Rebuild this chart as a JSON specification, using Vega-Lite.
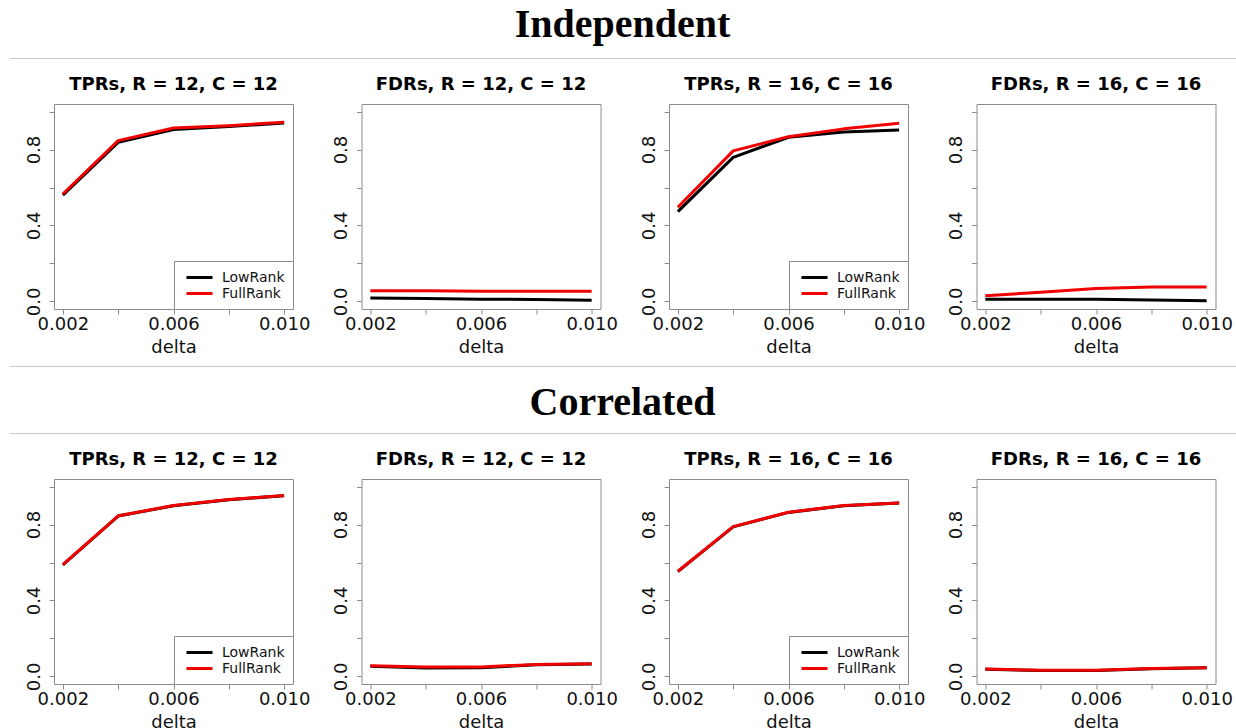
{
  "$schema": "https://vega.github.io/schema/vega-lite/v6.json",
  "padding": {"left": 9, "top": 5, "right": 0, "bottom": 0},
  "background": "white",
  "datasets": {
    "all": [
      {"s": "Independent", "m": "TPR", "r": 12, "method": "LowRank", "delta": 0.002, "value": 0.560},
      {"s": "Independent", "m": "TPR", "r": 12, "method": "LowRank", "delta": 0.004, "value": 0.838},
      {"s": "Independent", "m": "TPR", "r": 12, "method": "LowRank", "delta": 0.006, "value": 0.905},
      {"s": "Independent", "m": "TPR", "r": 12, "method": "LowRank", "delta": 0.008, "value": 0.921},
      {"s": "Independent", "m": "TPR", "r": 12, "method": "LowRank", "delta": 0.010, "value": 0.940},
      {"s": "Independent", "m": "TPR", "r": 12, "method": "FullRank", "delta": 0.002, "value": 0.566},
      {"s": "Independent", "m": "TPR", "r": 12, "method": "FullRank", "delta": 0.004, "value": 0.847},
      {"s": "Independent", "m": "TPR", "r": 12, "method": "FullRank", "delta": 0.006, "value": 0.914},
      {"s": "Independent", "m": "TPR", "r": 12, "method": "FullRank", "delta": 0.008, "value": 0.926},
      {"s": "Independent", "m": "TPR", "r": 12, "method": "FullRank", "delta": 0.010, "value": 0.944},
      {"s": "Independent", "m": "FDR", "r": 12, "method": "LowRank", "delta": 0.002, "value": 0.018},
      {"s": "Independent", "m": "FDR", "r": 12, "method": "LowRank", "delta": 0.004, "value": 0.015},
      {"s": "Independent", "m": "FDR", "r": 12, "method": "LowRank", "delta": 0.006, "value": 0.012},
      {"s": "Independent", "m": "FDR", "r": 12, "method": "LowRank", "delta": 0.008, "value": 0.010},
      {"s": "Independent", "m": "FDR", "r": 12, "method": "LowRank", "delta": 0.010, "value": 0.006},
      {"s": "Independent", "m": "FDR", "r": 12, "method": "FullRank", "delta": 0.002, "value": 0.056},
      {"s": "Independent", "m": "FDR", "r": 12, "method": "FullRank", "delta": 0.004, "value": 0.056},
      {"s": "Independent", "m": "FDR", "r": 12, "method": "FullRank", "delta": 0.006, "value": 0.054},
      {"s": "Independent", "m": "FDR", "r": 12, "method": "FullRank", "delta": 0.008, "value": 0.054},
      {"s": "Independent", "m": "FDR", "r": 12, "method": "FullRank", "delta": 0.010, "value": 0.053},
      {"s": "Independent", "m": "TPR", "r": 16, "method": "LowRank", "delta": 0.002, "value": 0.473},
      {"s": "Independent", "m": "TPR", "r": 16, "method": "LowRank", "delta": 0.004, "value": 0.759},
      {"s": "Independent", "m": "TPR", "r": 16, "method": "LowRank", "delta": 0.006, "value": 0.865},
      {"s": "Independent", "m": "TPR", "r": 16, "method": "LowRank", "delta": 0.008, "value": 0.893},
      {"s": "Independent", "m": "TPR", "r": 16, "method": "LowRank", "delta": 0.010, "value": 0.903},
      {"s": "Independent", "m": "TPR", "r": 16, "method": "FullRank", "delta": 0.002, "value": 0.496},
      {"s": "Independent", "m": "TPR", "r": 16, "method": "FullRank", "delta": 0.004, "value": 0.793},
      {"s": "Independent", "m": "TPR", "r": 16, "method": "FullRank", "delta": 0.006, "value": 0.868},
      {"s": "Independent", "m": "TPR", "r": 16, "method": "FullRank", "delta": 0.008, "value": 0.909},
      {"s": "Independent", "m": "TPR", "r": 16, "method": "FullRank", "delta": 0.010, "value": 0.938},
      {"s": "Independent", "m": "FDR", "r": 16, "method": "LowRank", "delta": 0.002, "value": 0.011},
      {"s": "Independent", "m": "FDR", "r": 16, "method": "LowRank", "delta": 0.004, "value": 0.011},
      {"s": "Independent", "m": "FDR", "r": 16, "method": "LowRank", "delta": 0.006, "value": 0.011},
      {"s": "Independent", "m": "FDR", "r": 16, "method": "LowRank", "delta": 0.008, "value": 0.008},
      {"s": "Independent", "m": "FDR", "r": 16, "method": "LowRank", "delta": 0.010, "value": 0.004},
      {"s": "Independent", "m": "FDR", "r": 16, "method": "FullRank", "delta": 0.002, "value": 0.030},
      {"s": "Independent", "m": "FDR", "r": 16, "method": "FullRank", "delta": 0.004, "value": 0.048},
      {"s": "Independent", "m": "FDR", "r": 16, "method": "FullRank", "delta": 0.006, "value": 0.068},
      {"s": "Independent", "m": "FDR", "r": 16, "method": "FullRank", "delta": 0.008, "value": 0.076},
      {"s": "Independent", "m": "FDR", "r": 16, "method": "FullRank", "delta": 0.010, "value": 0.076},
      {"s": "Correlated", "m": "TPR", "r": 12, "method": "LowRank", "delta": 0.002, "value": 0.588},
      {"s": "Correlated", "m": "TPR", "r": 12, "method": "LowRank", "delta": 0.004, "value": 0.845},
      {"s": "Correlated", "m": "TPR", "r": 12, "method": "LowRank", "delta": 0.006, "value": 0.899},
      {"s": "Correlated", "m": "TPR", "r": 12, "method": "LowRank", "delta": 0.008, "value": 0.931},
      {"s": "Correlated", "m": "TPR", "r": 12, "method": "LowRank", "delta": 0.010, "value": 0.952},
      {"s": "Correlated", "m": "TPR", "r": 12, "method": "FullRank", "delta": 0.002, "value": 0.589},
      {"s": "Correlated", "m": "TPR", "r": 12, "method": "FullRank", "delta": 0.004, "value": 0.846},
      {"s": "Correlated", "m": "TPR", "r": 12, "method": "FullRank", "delta": 0.006, "value": 0.900},
      {"s": "Correlated", "m": "TPR", "r": 12, "method": "FullRank", "delta": 0.008, "value": 0.932},
      {"s": "Correlated", "m": "TPR", "r": 12, "method": "FullRank", "delta": 0.010, "value": 0.953},
      {"s": "Correlated", "m": "FDR", "r": 12, "method": "LowRank", "delta": 0.002, "value": 0.053},
      {"s": "Correlated", "m": "FDR", "r": 12, "method": "LowRank", "delta": 0.004, "value": 0.044},
      {"s": "Correlated", "m": "FDR", "r": 12, "method": "LowRank", "delta": 0.006, "value": 0.046},
      {"s": "Correlated", "m": "FDR", "r": 12, "method": "LowRank", "delta": 0.008, "value": 0.061},
      {"s": "Correlated", "m": "FDR", "r": 12, "method": "LowRank", "delta": 0.010, "value": 0.065},
      {"s": "Correlated", "m": "FDR", "r": 12, "method": "FullRank", "delta": 0.002, "value": 0.056},
      {"s": "Correlated", "m": "FDR", "r": 12, "method": "FullRank", "delta": 0.004, "value": 0.049},
      {"s": "Correlated", "m": "FDR", "r": 12, "method": "FullRank", "delta": 0.006, "value": 0.050},
      {"s": "Correlated", "m": "FDR", "r": 12, "method": "FullRank", "delta": 0.008, "value": 0.063},
      {"s": "Correlated", "m": "FDR", "r": 12, "method": "FullRank", "delta": 0.010, "value": 0.067},
      {"s": "Correlated", "m": "TPR", "r": 16, "method": "LowRank", "delta": 0.002, "value": 0.552},
      {"s": "Correlated", "m": "TPR", "r": 16, "method": "LowRank", "delta": 0.004, "value": 0.788},
      {"s": "Correlated", "m": "TPR", "r": 16, "method": "LowRank", "delta": 0.006, "value": 0.864},
      {"s": "Correlated", "m": "TPR", "r": 16, "method": "LowRank", "delta": 0.008, "value": 0.899},
      {"s": "Correlated", "m": "TPR", "r": 16, "method": "LowRank", "delta": 0.010, "value": 0.913},
      {"s": "Correlated", "m": "TPR", "r": 16, "method": "FullRank", "delta": 0.002, "value": 0.554},
      {"s": "Correlated", "m": "TPR", "r": 16, "method": "FullRank", "delta": 0.004, "value": 0.789},
      {"s": "Correlated", "m": "TPR", "r": 16, "method": "FullRank", "delta": 0.006, "value": 0.865},
      {"s": "Correlated", "m": "TPR", "r": 16, "method": "FullRank", "delta": 0.008, "value": 0.900},
      {"s": "Correlated", "m": "TPR", "r": 16, "method": "FullRank", "delta": 0.010, "value": 0.914},
      {"s": "Correlated", "m": "FDR", "r": 16, "method": "LowRank", "delta": 0.002, "value": 0.038},
      {"s": "Correlated", "m": "FDR", "r": 16, "method": "LowRank", "delta": 0.004, "value": 0.031},
      {"s": "Correlated", "m": "FDR", "r": 16, "method": "LowRank", "delta": 0.006, "value": 0.031},
      {"s": "Correlated", "m": "FDR", "r": 16, "method": "LowRank", "delta": 0.008, "value": 0.040},
      {"s": "Correlated", "m": "FDR", "r": 16, "method": "LowRank", "delta": 0.010, "value": 0.045},
      {"s": "Correlated", "m": "FDR", "r": 16, "method": "FullRank", "delta": 0.002, "value": 0.039},
      {"s": "Correlated", "m": "FDR", "r": 16, "method": "FullRank", "delta": 0.004, "value": 0.032},
      {"s": "Correlated", "m": "FDR", "r": 16, "method": "FullRank", "delta": 0.006, "value": 0.033},
      {"s": "Correlated", "m": "FDR", "r": 16, "method": "FullRank", "delta": 0.008, "value": 0.042},
      {"s": "Correlated", "m": "FDR", "r": 16, "method": "FullRank", "delta": 0.010, "value": 0.046}
    ]
  },
  "spacing": 8,
  "resolve": {"scale": {"color": "independent"}, "legend": {"color": "independent"}},
  "vconcat": [
    {
      "width": 1227, "height": 1,
      "view": {"stroke": null},
      "title": {"text": "Independent", "font": "Liberation Serif", "fontSize": 40, "fontWeight": "bold", "offset": 12},
      "data": {"values": []},
      "mark": "point",
      "encoding": {"x": {"field": "v", "type": "quantitative", "scale": {"domain": [0, 1]}, "axis": {"domain": true, "domainColor": "#c8c8c8", "domainWidth": 1, "ticks": false, "labels": false, "title": null, "minExtent": 9, "maxExtent": 9}}}
    },
    {
      "bounds": "flush",
      "spacing": 0,
      "resolve": {"scale": {"color": "independent"}, "legend": {"color": "independent"}},
      "hconcat": [
        {"width": 45, "height": 205, "view": {"stroke": null}, "data": {"values": []}, "mark": "point"},
        {
          "bounds": "flush",
          "spacing": 68.5,
          "resolve": {"scale": {"color": "independent"}, "legend": {"color": "independent"}},
          "hconcat": [
            {
              "width": 239, "height": 205,
              "title": "TPRs, R = 12, C = 12",
              "data": {"name": "all"},
              "transform": [{"filter": "datum.s === 'Independent' && datum.m === 'TPR' && datum.r === 12"}],
              "mark": {"type": "line", "strokeWidth": 3, "strokeJoin": "round"},
              "encoding": {
                "x": {"field": "delta", "type": "quantitative", "scale": {"domain": [0.00168, 0.01032], "nice": false, "zero": false}, "axis": {"values": [0.002, 0.004, 0.006, 0.008, 0.01], "title": "delta"}},
                "y": {"field": "value", "type": "quantitative", "scale": {"domain": [-0.04, 1.04], "nice": false, "zero": false}, "axis": {"values": [0, 0.2, 0.4, 0.6, 0.8, 1], "title": null}},
                "color": {"field": "method", "type": "nominal", "scale": {"domain": ["LowRank", "FullRank"], "range": ["#000000", "#f00000"]}, "legend": {"orient": "bottom-right", "offset": 0, "title": null}}
              }
            },
            {
              "width": 239, "height": 205,
              "title": "FDRs, R = 12, C = 12",
              "data": {"name": "all"},
              "transform": [{"filter": "datum.s === 'Independent' && datum.m === 'FDR' && datum.r === 12"}],
              "mark": {"type": "line", "strokeWidth": 3, "strokeJoin": "round"},
              "encoding": {
                "x": {"field": "delta", "type": "quantitative", "scale": {"domain": [0.00168, 0.01032], "nice": false, "zero": false}, "axis": {"values": [0.002, 0.004, 0.006, 0.008, 0.01], "title": "delta"}},
                "y": {"field": "value", "type": "quantitative", "scale": {"domain": [-0.04, 1.04], "nice": false, "zero": false}, "axis": {"values": [0, 0.2, 0.4, 0.6, 0.8, 1], "title": null}},
                "color": {"field": "method", "type": "nominal", "scale": {"domain": ["LowRank", "FullRank"], "range": ["#000000", "#f00000"]}, "legend": null}
              }
            },
            {
              "width": 239, "height": 205,
              "title": "TPRs, R = 16, C = 16",
              "data": {"name": "all"},
              "transform": [{"filter": "datum.s === 'Independent' && datum.m === 'TPR' && datum.r === 16"}],
              "mark": {"type": "line", "strokeWidth": 3, "strokeJoin": "round"},
              "encoding": {
                "x": {"field": "delta", "type": "quantitative", "scale": {"domain": [0.00168, 0.01032], "nice": false, "zero": false}, "axis": {"values": [0.002, 0.004, 0.006, 0.008, 0.01], "title": "delta"}},
                "y": {"field": "value", "type": "quantitative", "scale": {"domain": [-0.04, 1.04], "nice": false, "zero": false}, "axis": {"values": [0, 0.2, 0.4, 0.6, 0.8, 1], "title": null}},
                "color": {"field": "method", "type": "nominal", "scale": {"domain": ["LowRank", "FullRank"], "range": ["#000000", "#f00000"]}, "legend": {"orient": "bottom-right", "offset": 0, "title": null}}
              }
            },
            {
              "width": 239, "height": 205,
              "title": "FDRs, R = 16, C = 16",
              "data": {"name": "all"},
              "transform": [{"filter": "datum.s === 'Independent' && datum.m === 'FDR' && datum.r === 16"}],
              "mark": {"type": "line", "strokeWidth": 3, "strokeJoin": "round"},
              "encoding": {
                "x": {"field": "delta", "type": "quantitative", "scale": {"domain": [0.00168, 0.01032], "nice": false, "zero": false}, "axis": {"values": [0.002, 0.004, 0.006, 0.008, 0.01], "title": "delta"}},
                "y": {"field": "value", "type": "quantitative", "scale": {"domain": [-0.04, 1.04], "nice": false, "zero": false}, "axis": {"values": [0, 0.2, 0.4, 0.6, 0.8, 1], "title": null}},
                "color": {"field": "method", "type": "nominal", "scale": {"domain": ["LowRank", "FullRank"], "range": ["#000000", "#f00000"]}, "legend": null}
              }
            }
          ]
        }
      ]
    },
    {
      "width": 1227, "height": 1,
      "view": {"stroke": null},
      "data": {"values": []},
      "mark": "point",
      "encoding": {"x": {"field": "v", "type": "quantitative", "scale": {"domain": [0, 1]}, "axis": {"domain": true, "domainColor": "#c8c8c8", "domainWidth": 1, "ticks": false, "labels": false, "title": null, "minExtent": 9, "maxExtent": 9}}}
    },
    {
      "width": 1227, "height": 1,
      "view": {"stroke": null},
      "title": {"text": "Correlated", "font": "Liberation Serif", "fontSize": 40, "fontWeight": "bold", "offset": 9},
      "data": {"values": []},
      "mark": "point",
      "encoding": {"x": {"field": "v", "type": "quantitative", "scale": {"domain": [0, 1]}, "axis": {"domain": true, "domainColor": "#c8c8c8", "domainWidth": 1, "ticks": false, "labels": false, "title": null, "minExtent": 9, "maxExtent": 9}}}
    },
    {
      "bounds": "flush",
      "spacing": 0,
      "resolve": {"scale": {"color": "independent"}, "legend": {"color": "independent"}},
      "hconcat": [
        {"width": 45, "height": 205, "view": {"stroke": null}, "data": {"values": []}, "mark": "point"},
        {
          "bounds": "flush",
          "spacing": 68.5,
          "resolve": {"scale": {"color": "independent"}, "legend": {"color": "independent"}},
          "hconcat": [
            {
              "width": 239, "height": 205,
              "title": "TPRs, R = 12, C = 12",
              "data": {"name": "all"},
              "transform": [{"filter": "datum.s === 'Correlated' && datum.m === 'TPR' && datum.r === 12"}],
              "mark": {"type": "line", "strokeWidth": 3, "strokeJoin": "round"},
              "encoding": {
                "x": {"field": "delta", "type": "quantitative", "scale": {"domain": [0.00168, 0.01032], "nice": false, "zero": false}, "axis": {"values": [0.002, 0.004, 0.006, 0.008, 0.01], "title": "delta"}},
                "y": {"field": "value", "type": "quantitative", "scale": {"domain": [-0.04, 1.04], "nice": false, "zero": false}, "axis": {"values": [0, 0.2, 0.4, 0.6, 0.8, 1], "title": null}},
                "color": {"field": "method", "type": "nominal", "scale": {"domain": ["LowRank", "FullRank"], "range": ["#000000", "#f00000"]}, "legend": {"orient": "bottom-right", "offset": 0, "title": null}}
              }
            },
            {
              "width": 239, "height": 205,
              "title": "FDRs, R = 12, C = 12",
              "data": {"name": "all"},
              "transform": [{"filter": "datum.s === 'Correlated' && datum.m === 'FDR' && datum.r === 12"}],
              "mark": {"type": "line", "strokeWidth": 3, "strokeJoin": "round"},
              "encoding": {
                "x": {"field": "delta", "type": "quantitative", "scale": {"domain": [0.00168, 0.01032], "nice": false, "zero": false}, "axis": {"values": [0.002, 0.004, 0.006, 0.008, 0.01], "title": "delta"}},
                "y": {"field": "value", "type": "quantitative", "scale": {"domain": [-0.04, 1.04], "nice": false, "zero": false}, "axis": {"values": [0, 0.2, 0.4, 0.6, 0.8, 1], "title": null}},
                "color": {"field": "method", "type": "nominal", "scale": {"domain": ["LowRank", "FullRank"], "range": ["#000000", "#f00000"]}, "legend": null}
              }
            },
            {
              "width": 239, "height": 205,
              "title": "TPRs, R = 16, C = 16",
              "data": {"name": "all"},
              "transform": [{"filter": "datum.s === 'Correlated' && datum.m === 'TPR' && datum.r === 16"}],
              "mark": {"type": "line", "strokeWidth": 3, "strokeJoin": "round"},
              "encoding": {
                "x": {"field": "delta", "type": "quantitative", "scale": {"domain": [0.00168, 0.01032], "nice": false, "zero": false}, "axis": {"values": [0.002, 0.004, 0.006, 0.008, 0.01], "title": "delta"}},
                "y": {"field": "value", "type": "quantitative", "scale": {"domain": [-0.04, 1.04], "nice": false, "zero": false}, "axis": {"values": [0, 0.2, 0.4, 0.6, 0.8, 1], "title": null}},
                "color": {"field": "method", "type": "nominal", "scale": {"domain": ["LowRank", "FullRank"], "range": ["#000000", "#f00000"]}, "legend": {"orient": "bottom-right", "offset": 0, "title": null}}
              }
            },
            {
              "width": 239, "height": 205,
              "title": "FDRs, R = 16, C = 16",
              "data": {"name": "all"},
              "transform": [{"filter": "datum.s === 'Correlated' && datum.m === 'FDR' && datum.r === 16"}],
              "mark": {"type": "line", "strokeWidth": 3, "strokeJoin": "round"},
              "encoding": {
                "x": {"field": "delta", "type": "quantitative", "scale": {"domain": [0.00168, 0.01032], "nice": false, "zero": false}, "axis": {"values": [0.002, 0.004, 0.006, 0.008, 0.01], "title": "delta"}},
                "y": {"field": "value", "type": "quantitative", "scale": {"domain": [-0.04, 1.04], "nice": false, "zero": false}, "axis": {"values": [0, 0.2, 0.4, 0.6, 0.8, 1], "title": null}},
                "color": {"field": "method", "type": "nominal", "scale": {"domain": ["LowRank", "FullRank"], "range": ["#000000", "#f00000"]}, "legend": null}
              }
            }
          ]
        }
      ]
    }
  ],
  "config": {
    "view": {"stroke": "#8c8c8c", "strokeWidth": 1},
    "axis": {
      "domain": false, "grid": false,
      "tickColor": "#8c8c8c", "tickSize": 5, "tickWidth": 1,
      "labelFont": "DejaVu Sans", "labelFontSize": 18, "labelColor": "#111111",
      "titleFont": "DejaVu Sans", "titleFontSize": 18, "titleFontWeight": "normal", "titleColor": "#111111",
      "labelOverlap": false, "labelFlush": false, "labelBound": false
    },
    "axisX": {
      "labelAngle": 0, "labelPadding": 1, "titlePadding": 5,
      "labelExpr": "(abs(datum.value - 0.004) < 1e-7 || abs(datum.value - 0.008) < 1e-7) ? '' : format(datum.value, '.3f')"
    },
    "axisY": {
      "labelAngle": 270, "labelAlign": "center", "labelBaseline": "bottom", "labelPadding": 6,
      "labelExpr": "(abs(datum.value - 0.2) < 1e-7 || abs(datum.value - 0.6) < 1e-7 || abs(datum.value - 1) < 1e-7) ? '' : format(datum.value, '.1f')"
    },
    "title": {"font": "DejaVu Sans", "fontSize": 18, "fontWeight": "bold", "color": "#000000", "offset": 10, "anchor": "middle"},
    "legend": {
      "strokeColor": "#8c8c8c", "fillColor": "#ffffff", "padding": 8, "cornerRadius": 0,
      "symbolType": "M-1.86,0H1.86", "symbolStrokeWidth": 3, "symbolSize": 196, "symbolOffset": 9,
      "labelFont": "DejaVu Sans", "labelFontSize": 14, "labelColor": "#111111",
      "labelOffset": 14, "rowPadding": -1
    }
  }
}
